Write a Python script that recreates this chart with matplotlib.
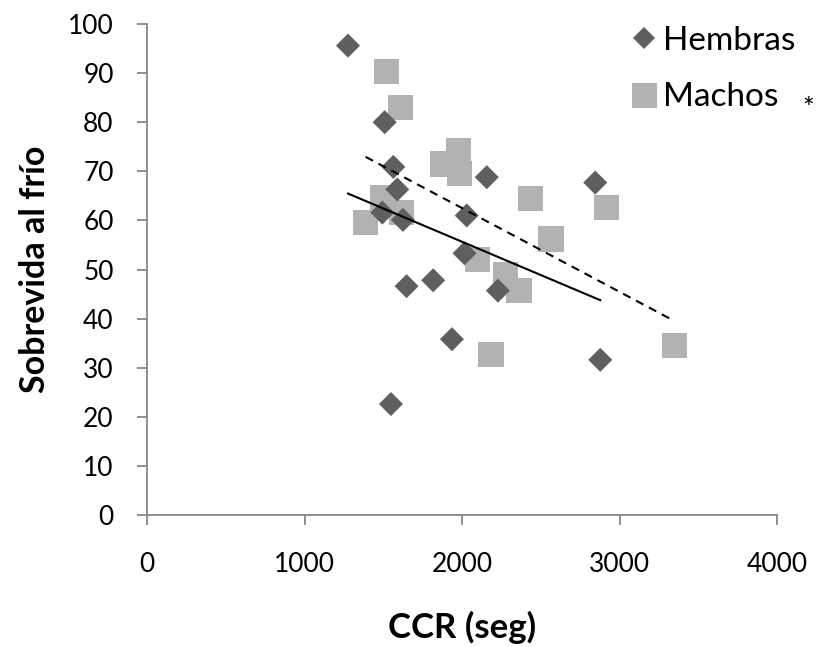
import numpy as np
import matplotlib
matplotlib.use("Agg")
import matplotlib.pyplot as plt
from matplotlib.lines import Line2D

# -----------------------------------------------
# DATOS
# -----------------------------------------------
hembras_x = [1276, 1509, 1564, 1589, 1494, 1625, 2157, 2030, 2016, 1648,
             1817, 2228, 1936, 1549, 2846, 2878]
hembras_y = [95.6, 80.0, 70.9, 66.3, 61.6, 60.1, 68.8, 61.0, 53.3, 46.6,
             47.8, 45.7, 35.8, 22.6, 67.7, 31.6]

machos_x = [1521, 1610, 1976, 1879, 1984, 1494, 1616, 1388, 2434, 2096,
            2274, 2362, 2184, 2918, 2565, 3349]
machos_y = [90.4, 83.0, 74.3, 71.5, 69.6, 64.6, 61.6, 59.6, 64.4, 52.1,
            49.0, 45.8, 32.7, 62.7, 56.2, 34.5]

x_ticks = [0, 1000, 2000, 3000, 4000]
y_ticks = list(range(0, 101, 10))

# -----------------------------------------------
# ESTILO
# -----------------------------------------------
DARK = "#5f5f5f"
LIGHT = "#b2b2b2"
AXIS = "#878787"
FONT = "Lato"

plt.rcParams["font.family"] = [FONT, "DejaVu Sans"]

fig = plt.figure(figsize=(8.17, 6.47), dpi=100)
ax = fig.add_axes([147 / 817, 1 - 515 / 647, 630 / 817, 491 / 647])

ax.scatter(hembras_x, hembras_y, marker="D", s=150, color=DARK,
           edgecolors="none", zorder=3)
ax.scatter(machos_x, machos_y, marker="s", s=330, color=LIGHT,
           edgecolors="none", zorder=2)

# líneas de tendencia (ajuste lineal)
hx = np.array(hembras_x, dtype=float)
mx = np.array(machos_x, dtype=float)
ph = np.polyfit(hx, hembras_y, 1)
pm = np.polyfit(mx, machos_y, 1)
xs = np.array([hx.min(), hx.max()])
ax.plot(xs, np.polyval(ph, xs), color="black", lw=1.5, zorder=4)
xs = np.array([mx.min(), mx.max()])
ax.plot(xs, np.polyval(pm, xs), color="black", lw=1.5, ls=(0, (4, 3)), zorder=4)

ax.set_xlim(0, 4000)
ax.set_ylim(0, 100)
ax.set_xticks(x_ticks)
ax.set_yticks(y_ticks)

for s in ["top", "right"]:
    ax.spines[s].set_visible(False)
for s in ["left", "bottom"]:
    ax.spines[s].set_color(AXIS)
    ax.spines[s].set_linewidth(1.3)
ax.tick_params(axis="both", direction="out", length=7, width=1.3,
               color=AXIS, labelsize=19, labelcolor="black")
ax.tick_params(axis="x", pad=20)
ax.tick_params(axis="y", pad=17)

ax.set_xlabel("CCR (seg)", fontsize=25, fontweight="bold", labelpad=24)
ax.set_ylabel("Sobrevida al frío", fontsize=24.5, fontweight="bold", labelpad=12)

handles = [
    Line2D([], [], marker="D", color=DARK, ls="none", markersize=11,
           markeredgewidth=0),
    Line2D([], [], marker="s", color=LIGHT, ls="none", markersize=18,
           markeredgewidth=0),
]
ax.legend(handles, ["Hembras", "Machos"], loc="upper left",
          bbox_to_anchor=(611 / 817, 1 - 9 / 647), bbox_transform=fig.transFigure,
          frameon=False, fontsize=24, labelspacing=0.8, handletextpad=0.05,
          handlelength=1.0, borderpad=0)
fig.text(808 / 817, 1 - 110 / 647, "*", fontsize=20, ha="center", va="center")

fig.savefig("out.png", dpi=100)
